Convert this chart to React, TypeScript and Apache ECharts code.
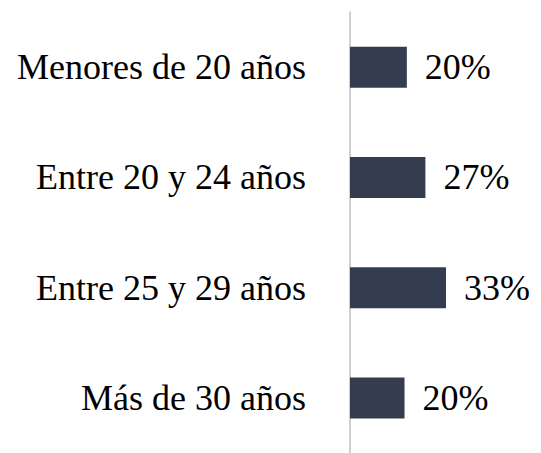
import React, { useEffect, useRef } from "react";
import * as echarts from "echarts";

const categories = ["Menores de 20 años", "Entre 20 y 24 años", "Entre 25 y 29 años", "Más de 30 años"];
const values = [19.6, 26.0, 33.1, 18.8];
const labels = ["20%", "27%", "33%", "20%"];

export default function App() {
  const ref = useRef<HTMLDivElement>(null);
  useEffect(() => {
    if (!ref.current) return;
    const chart = echarts.init(ref.current, null, { renderer: "svg" });
    chart.setOption({
      animation: false,
      backgroundColor: "#ffffff",
      grid: { left: 350, top: 12, width: 174, height: 448, containLabel: false },
      xAxis: {
        type: "value",
        min: 0,
        max: 60,
        show: false,
      },
      yAxis: {
        type: "category",
        data: categories.slice().reverse(),
        axisLine: { show: true, lineStyle: { color: "#bfbfbf", width: 1.5 } },
        axisTick: { show: false },
        axisLabel: {
          margin: 44,
          fontFamily: "Liberation Serif",
          fontSize: 36,
          color: "#000000",
        },
        splitLine: { show: false },
      },
      series: [
        {
          type: "bar",
          data: values.slice().reverse(),
          barWidth: 41,
          itemStyle: { color: "#333d4f" },
          label: {
            show: true,
            position: "right",
            distance: 18,
            fontFamily: "Liberation Serif",
            fontSize: 36,
            color: "#000000",
            formatter: (p: any) => labels[labels.length - 1 - p.dataIndex],
          },
        },
      ],
    });
    return () => chart.dispose();
  }, []);
  return <div ref={ref} style={{ width: 541, height: 453, position: "absolute", left: 0, top: 0 }} />;
}
